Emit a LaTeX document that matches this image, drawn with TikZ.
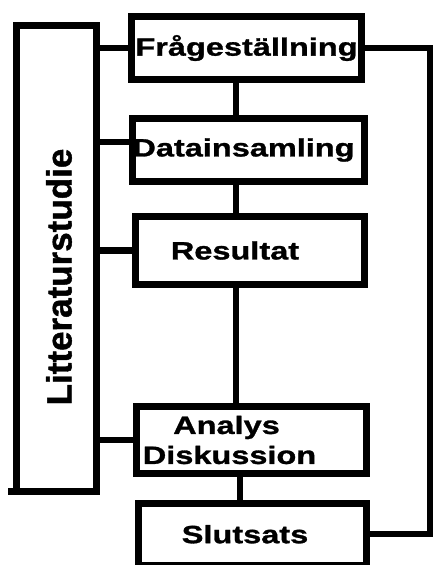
\documentclass[tikz,border=0pt]{standalone}
\usepackage{fontspec}
\setmainfont{Liberation Sans}
\newfontfamily\boxfont{Liberation Sans}[FakeStretch=1.3,FakeBold=1.2]
\newfontfamily\sidefont{Liberation Sans}[FakeBold=1.2]
\begin{document}
\begin{tikzpicture}[x=1pt,y=-1pt,
  frame/.style={draw=black, line width=7pt, fill=white, rectangle, inner sep=0pt,
    font=\boxfont\bfseries\fontsize{25}{30}\selectfont, align=center},
  link/.style={draw=black, line width=6.5pt},
  rail/.style={draw=black, line width=6pt}]
\useasboundingbox (0,0) rectangle (433,565);

% side column
\node[frame, minimum width=80pt, minimum height=466pt, font=\sidefont\bfseries\fontsize{35}{40}\selectfont]
  (lit) at (56.5,258) {\hspace*{5pt}\rotatebox{90}{Litteraturstudie\hspace*{38pt}}};
\draw[line width=7pt] ([yshift=3.5pt]lit.south west) -- ++(-5,0);

% process steps
\node[frame, minimum width=230pt, minimum height=63pt]   (F) at (246.5,48)   {Frågeställning};
\node[frame, minimum width=230pt, minimum height=63pt]   (D) at (248.5,150)  {Datainsamling\hspace*{10pt}};
\node[frame, minimum width=229pt, minimum height=68pt]   (R) at (250,250.5)  {Resultat\hspace*{30pt}};
\node[frame, minimum width=230pt, minimum height=67pt]   (A) at (251.5,440)  {Analys\hspace*{50pt}\\Diskussion\hspace*{44pt}};
\node[frame, minimum width=228pt, minimum height=61.5pt] (S) at (252.5,534.25) {Slutsats\hspace*{15pt}};

\coordinate (spine) at (236,0);
\coordinate (spineb) at (240,0);
\coordinate (back) at (430,0);

% vertical chain
\draw[link] (F.south -| spine) -- (D.north -| spine);
\draw[link] (D.south -| spine) -- (R.north -| spine);
\draw[link] (R.south -| spine) -- (A.north -| spine);
\draw[link] (A.south -| spineb) -- (S.north -| spineb);

% branches from the side column
\draw[link] (lit.east |- F.west) -- (F.west);
\draw[link] ([yshift=8pt]D.west -| lit.east) -- ([yshift=8pt]D.west);
\draw[link] (lit.east |- R.west) -- (R.west);
\draw[link] (lit.east |- A.west) -- (A.west);

% return line on the right
\draw[rail, line join=miter] (F.east) -- (F.east -| back) -- (S.east -| back) -- (S.east);
\end{tikzpicture}
\end{document}
